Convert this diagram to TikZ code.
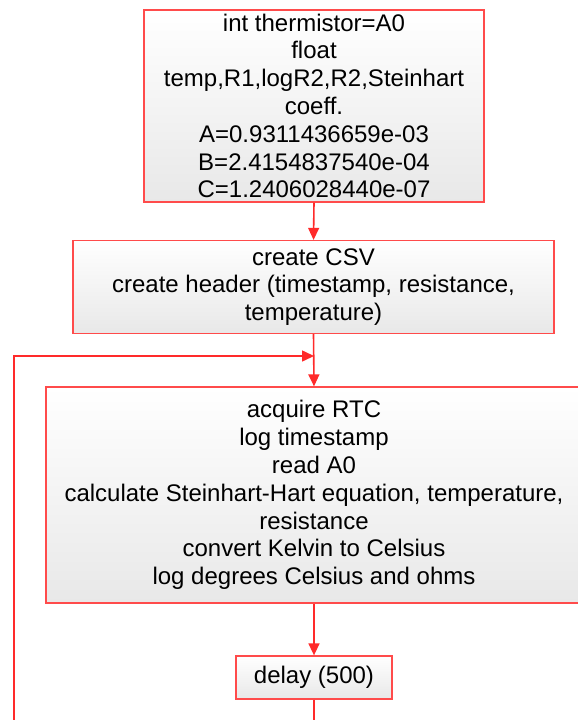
\documentclass[tikz,border=0pt]{standalone}
\usepackage{fontspec}
\setmainfont{Liberation Sans}
\usetikzlibrary{arrows.meta}
\definecolor{boxred}{HTML}{FF4B4B}
\definecolor{linered}{HTML}{FF2A2A}
\begin{document}
\begin{tikzpicture}[x=1pt,y=-1pt,
  box/.style={draw=boxred, line width=1.3pt, top color=white, bottom color=black!9,
    align=center, inner sep=0pt, font=\fontsize{24}{27.8}\selectfont},
  conn/.style={draw=linered, line width=1.6pt, -{Triangle[length=12pt,width=11pt]}},
  plain/.style={draw=linered, line width=1.6pt}]
\useasboundingbox (0,0) rectangle (578,720);
\clip (0,0) rectangle (578,720);
\node[box, minimum width=340pt, minimum height=192pt] (b1) at (314,106)
  {int thermistor=A0\\float\\temp,R1,logR2,R2,Steinhart\\coeff.\\A=0.9311436659e-03\\B=2.4154837540e-04\\C=1.2406028440e-07};
\node[box, minimum width=481pt, minimum height=93pt] (b2) at (313.5,287)
  {create CSV\\create header (timestamp, resistance,\\temperature)};
\node[box, minimum width=536pt, minimum height=216pt] (b3) at (314,495)
  {acquire RTC\\log timestamp\\read A0\\calculate Steinhart-Hart equation, temperature,\\resistance\\convert Kelvin to Celsius\\log degrees Celsius and ohms};
\node[box, minimum width=156pt, minimum height=43pt] (b4) at (314,677.5)
  {delay (500)};
\coordinate (bot) at (314,730);
\coordinate (lb) at (14,730);
\coordinate (m) at (314,356);
\draw[conn] (b1.south) -- (b2.north);
\draw[conn] (b2.south) -- (b3.north);
\draw[conn] (b3.south) -- (b4.north);
\draw[plain] (b4.south) -- (bot);
\draw[conn] (lb) |- (m);
\end{tikzpicture}
\end{document}
